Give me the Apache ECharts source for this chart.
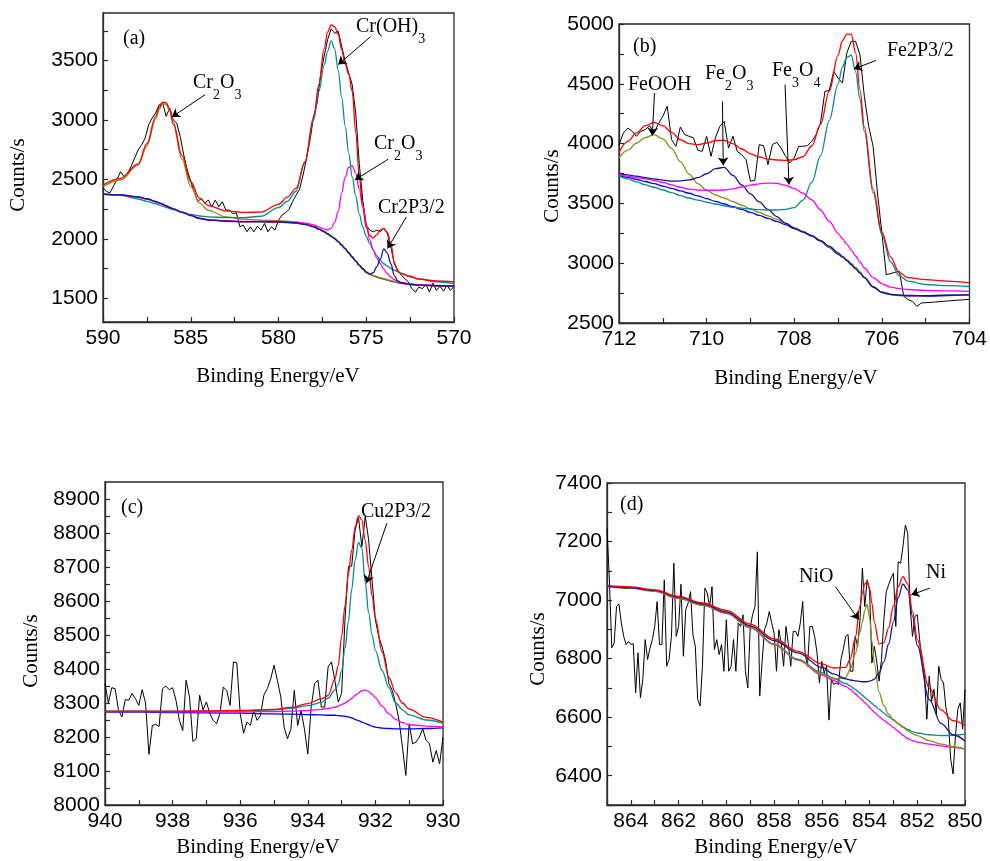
<!DOCTYPE html>
<html>
<head>
<meta charset="utf-8">
<script src="https://cdn.jsdelivr.net/npm/echarts@6/dist/echarts.min.js"></script>
<style>
  html, body { margin: 0; padding: 0; background: #fff; }
  #chart { width: 990px; height: 861px; }
</style>
</head>
<body>
<div id="chart"></div>
<script>
// ---------- (a) Cr 2p ----------
const aRawStart = 590, aRawStep = -0.2;
const aRaw = [2433, 2397, 2388, 2444, 2501, 2565, 2523, 2551, 2608, 2678,
  2748, 2791, 2847, 2960, 3016, 3058, 3128, 3142, 3030, 3100,
  3002, 2974, 2861, 2706, 2580, 2481, 2397, 2312, 2340, 2298,
  2326, 2270, 2326, 2270, 2312, 2242, 2242, 2213, 2219, 2101,
  2115, 2059, 2101, 2059, 2107, 2073, 2129, 2059, 2101, 2073,
  2157, 2200, 2219, 2247, 2312, 2368, 2416, 2537, 2678, 2833,
  3030, 3142, 3382, 3537, 3677, 3767, 3728, 3748, 3621, 3494,
  3396, 3297, 3058, 2636, 2326, 2115, 2073, 2059, 2073, 2059,
  2087, 2045, 1932, 1791, 1735, 1693, 1665, 1637, 1580, 1552,
  1594, 1580, 1617, 1552, 1628, 1566, 1600, 1560, 1608, 1566,
  1600];
const aFitE = [590, 589, 588, 587.5, 587, 586.8, 586.6, 586.4, 586.2, 586,
  585.5, 585, 584.5, 584, 583, 582, 581, 580, 579.5, 579,
  578.5, 578, 577.7, 577.4, 577.2, 577, 576.8, 576.6, 576.4, 576.2,
  576, 575.8, 575.6, 575.4, 575.2, 575, 574.8, 574.6, 574.4, 574.2,
  574, 573.8, 573.6, 573.4, 573.2, 573, 572.5, 572, 571, 570];
const aBackground = [2374, 2368, 2350, 2335, 2312, 2300, 2290, 2275, 2262, 2250,
  2222, 2195, 2170, 2158, 2148, 2143, 2142, 2140, 2137, 2132,
  2120, 2100, 2080, 2058, 2040, 2020, 2000, 1975, 1945, 1915,
  1880, 1845, 1810, 1775, 1745, 1718, 1700, 1688, 1678, 1668,
  1660, 1652, 1644, 1637, 1630, 1625, 1615, 1610, 1604, 1602];
const aCr2O3High = [2440, 2495, 2620, 2780, 3010, 3090, 3140, 3130, 3075, 2960,
  2670, 2440, 2300, 2240, 2185, 2165, 2158, 2152, 2148, 2142,
  2128, 2107, 2086, 2063, 2045, 2025, 2005, 1980, 1950, 1920,
  1885, 1850, 1815, 1780, 1750, 1723, 1705, 1693, 1683, 1673,
  1665, 1657, 1649, 1642, 1635, 1630, 1620, 1614, 1608, 1605];
const aCrOH3 = [2377, 2365, 2335, 2315, 2295, 2285, 2275, 2265, 2255, 2245,
  2225, 2205, 2192, 2185, 2178, 2177, 2190, 2262, 2315, 2400,
  2650, 3000, 3240, 3460, 3580, 3665, 3600, 3420, 3190, 2950,
  2720, 2520, 2360, 2210, 2100, 2020, 1960, 1905, 1858, 1818,
  1790, 1770, 1752, 1737, 1722, 1710, 1680, 1660, 1638, 1622];
const aCr2O3Low = [2376, 2370, 2352, 2337, 2315, 2303, 2293, 2278, 2265, 2253,
  2225, 2198, 2173, 2161, 2152, 2147, 2147, 2146, 2144, 2140,
  2132, 2118, 2100, 2082, 2075, 2090, 2140, 2230, 2385, 2520,
  2600, 2615, 2550, 2420, 2280, 2130, 1990, 1905, 1840, 1790,
  1745, 1708, 1678, 1657, 1642, 1633, 1620, 1613, 1606, 1603];
const aCrMetal = [2376, 2370, 2352, 2337, 2314, 2302, 2292, 2277, 2264, 2252,
  2224, 2197, 2172, 2160, 2150, 2145, 2144, 2142, 2139, 2134,
  2122, 2102, 2082, 2060, 2042, 2022, 2002, 1977, 1947, 1917,
  1882, 1847, 1812, 1778, 1750, 1718, 1703, 1715, 1765, 1830,
  1915, 1880, 1790, 1690, 1645, 1628, 1616, 1611, 1605, 1603];
const aEnvelope = [2453, 2509, 2630, 2800, 3030, 3105, 3150, 3145, 3095, 2980,
  2700, 2480, 2340, 2280, 2235, 2222, 2225, 2290, 2350, 2425,
  2640, 3020, 3300, 3600, 3740, 3800, 3785, 3720, 3590, 3470,
  3385, 3240, 2900, 2530, 2260, 2095, 2030, 2005, 2035, 2072,
  2088, 2055, 1960, 1800, 1725, 1705, 1685, 1662, 1645, 1637];
const aXLabels = [590, 585, 580, 575, 570];
const aXTicks = [590, 587.5, 585, 582.5, 580, 577.5, 575, 572.5, 570];
const aYLabels = [1500, 2000, 2500, 3000, 3500];
const aYTicks = [1500, 1750, 2000, 2250, 2500, 2750, 3000, 3250, 3500, 3750];

// ---------- (b) Fe 2p ----------
const bRawStart = 712, bRawStep = -0.1;
const bRaw = [3991, 4089, 4130, 4103, 4061, 4103, 4117, 4150, 4089, 4167,
  4228, 4312, 4033, 3977, 4139, 4075, 4061, 4047, 3944, 3935,
  4061, 3894, 4047, 4144, 4186, 3963, 4061, 3935, 3907, 3866,
  3685, 3693, 3991, 3983, 3824, 3991, 4011, 3963, 3894, 3838,
  3880, 3977, 3977, 3983, 4019, 4075, 4172, 4437, 4445, 4604,
  4548, 4507, 4758, 4855, 4855, 4744, 4395, 4144, 3977, 3587,
  3253, 2904, 2913, 2924, 2932, 2723, 2695, 2681, 2639, 2667,
  2670, 2672, 2675, 2678, 2681, 2684, 2687, 2690, 2692, 2695,
  2698];
const bFitE = [712, 711.8, 711.6, 711.4, 711.2, 711, 710.8, 710.6, 710.4, 710.2,
  710, 709.8, 709.6, 709.4, 709.2, 709, 708.8, 708.6, 708.4, 708.2,
  708, 707.8, 707.6, 707.4, 707.2, 707, 706.9, 706.8, 706.7, 706.6,
  706.5, 706.4, 706.2, 706, 705.8, 705.6, 705.4, 705, 704.5, 704];
const bBackground = [3735, 3718, 3700, 3683, 3665, 3645, 3625, 3605, 3585, 3563,
  3540, 3517, 3495, 3472, 3450, 3425, 3400, 3375, 3350, 3322,
  3290, 3260, 3226, 3184, 3130, 3075, 3050, 3025, 2995, 2960,
  2925, 2880, 2800, 2755, 2737, 2730, 2727, 2725, 2730, 2735];
const bFeOOH = [3880, 3945, 4005, 4050, 4075, 4040, 3960, 3850, 3745, 3665,
  3610, 3572, 3545, 3515, 3485, 3455, 3425, 3396, 3368, 3335,
  3298, 3266, 3232, 3190, 3135, 3080, 3054, 3028, 2998, 2963,
  2928, 2883, 2803, 2758, 2740, 2733, 2730, 2728, 2733, 2738];
const bFe2O3 = [3746, 3738, 3728, 3715, 3705, 3695, 3686, 3688, 3696, 3715,
  3748, 3790, 3802, 3735, 3655, 3580, 3512, 3450, 3390, 3335,
  3292, 3262, 3230, 3188, 3142, 3087, 3057, 3022, 2987, 2952,
  2917, 2880, 2803, 2758, 2740, 2733, 2730, 2728, 2732, 2738];
const bFe3O4 = [3740, 3728, 3716, 3705, 3692, 3675, 3655, 3635, 3620, 3612,
  3610, 3610, 3612, 3622, 3637, 3652, 3664, 3670, 3668, 3652,
  3625, 3585, 3530, 3445, 3350, 3250, 3205, 3160, 3110, 3060,
  3010, 2960, 2880, 2830, 2800, 2788, 2780, 2772, 2768, 2765];
const bFeMetal = [3730, 3705, 3680, 3655, 3635, 3612, 3590, 3565, 3545, 3528,
  3510, 3495, 3480, 3468, 3460, 3453, 3448, 3445, 3445, 3450,
  3465, 3528, 3675, 3900, 4195, 4500, 4640, 4720, 4740, 4600,
  4370, 4105, 3590, 3240, 3010, 2895, 2850, 2822, 2812, 2805];
const bEnvelope = [3925, 4019, 4089, 4150, 4178, 4150, 4094, 4033, 4000, 3991,
  4005, 4025, 4027, 4000, 3955, 3916, 3888, 3871, 3863, 3860,
  3866, 3890, 3980, 4160, 4440, 4740, 4860, 4915, 4915, 4760,
  4450, 4140, 3620, 3260, 3050, 2920, 2880, 2862, 2850, 2835];
const bXLabels = [712, 710, 708, 706, 704];
const bXTicks = [712, 711, 710, 709, 708, 707, 706, 705, 704];
const bYLabels = [2500, 3000, 3500, 4000, 4500, 5000];
const bYTicks = [2500, 2750, 3000, 3250, 3500, 3750, 4000, 4250, 4500, 4750, 5000];

// ---------- (c) Cu 2p ----------
const cRawStart = 940, cRawStep = -0.1;
const cRaw = [8357, 8300, 8345, 8342, 8278, 8259, 8310, 8308, 8328, 8313,
  8293, 8339, 8300, 8149, 8234, 8237, 8231, 8342, 8350, 8339,
  8345, 8308, 8249, 8219, 8367, 8318, 8187, 8195, 8323, 8280,
  8303, 8269, 8249, 8239, 8269, 8347, 8337, 8293, 8421, 8418,
  8269, 8211, 8244, 8234, 8278, 8249, 8264, 8323, 8342, 8370,
  8411, 8367, 8318, 8229, 8195, 8224, 8337, 8234, 8278, 8224,
  8150, 8288, 8357, 8367, 8288, 8288, 8406, 8421, 8367, 8303,
  8328, 8544, 8701, 8703, 8810, 8844, 8760, 8849, 8780, 8662,
  8544, 8495, 8465, 8426, 8357, 8337, 8298, 8249, 8170, 8087,
  8239, 8180, 8185, 8200, 8224, 8190, 8180, 8126, 8160, 8121,
  8200];
const cFitE = [940, 939, 938, 937, 936, 935, 934.5, 934, 933.6, 933.4,
  933.2, 933.1, 933, 932.9, 932.8, 932.7, 932.6, 932.5, 932.4, 932.3,
  932.2, 932.1, 932, 931.8, 931.6, 931.4, 931.2, 931, 930.5, 930];
const cBackground = [8273, 8273, 8272, 8271, 8270, 8268, 8267, 8266, 8265, 8264,
  8264, 8263, 8262, 8261, 8259, 8256, 8252, 8248, 8244, 8240,
  8236, 8232, 8229, 8226, 8225, 8224, 8224, 8224, 8225, 8227];
const cCuOxide = [8275, 8275, 8274, 8274, 8274, 8275, 8276, 8278, 8281, 8284,
  8288, 8291, 8295, 8300, 8306, 8314, 8322, 8330, 8336, 8338,
  8334, 8326, 8315, 8290, 8268, 8252, 8242, 8236, 8232, 8230];
const cCuMetal = [8275, 8275, 8275, 8276, 8277, 8280, 8284, 8292, 8302, 8314,
  8338, 8355, 8395, 8460, 8540, 8635, 8720, 8772, 8755, 8655,
  8565, 8500, 8455, 8395, 8345, 8300, 8280, 8265, 8250, 8241];
const cEnvelope = [8276, 8276, 8276, 8277, 8278, 8281, 8287, 8298, 8312, 8322,
  8370, 8410, 8495, 8585, 8680, 8750, 8818, 8850, 8838, 8778,
  8700, 8615, 8548, 8450, 8375, 8330, 8300, 8282, 8258, 8244];
const cXLabels = [940, 938, 936, 934, 932, 930];
const cXTicks = [940, 939, 938, 937, 936, 935, 934, 933, 932, 931, 930];
const cYLabels = [8000, 8100, 8200, 8300, 8400, 8500, 8600, 8700, 8800, 8900];
const cYTicks = [8000, 8050, 8100, 8150, 8200, 8250, 8300, 8350, 8400, 8450,
  8500, 8550, 8600, 8650, 8700, 8750, 8800, 8850, 8900];

// ---------- (d) Ni 2p ----------
const dRawStart = 865, dRawStep = -0.1;
const dRaw = [7245, 7069, 6837, 6853, 6978, 6987, 6922, 6876, 6848, 6859,
  6848, 6851, 6683, 6820, 6666, 6729, 6865, 6797, 6836, 6865,
  6910, 6995, 6848, 6848, 7069, 6774, 6797, 6876, 7126, 6876,
  6910, 7054, 6808, 6967, 6990, 7029, 6882, 6842, 6661, 6638,
  6774, 7041, 7024, 6978, 7046, 6831, 6865, 6814, 6848, 6757,
  6933, 6757, 6774, 6865, 6757, 6922, 6910, 6950, 6757, 6700,
  6905, 6950, 6978, 7165, 6672, 6791, 6899, 6922, 6961, 6922,
  6888, 6757, 6899, 6853, 6774, 6910, 6848, 6774, 6893, 6893,
  6876, 6922, 6995, 6820, 6774, 6910, 6910, 6876, 6820, 6717,
  6791, 6751, 6774, 6590, 6729, 6712, 6717, 6712, 6797, 6831,
  6876, 6882, 6757, 6757, 6876, 6842, 6933, 7109, 6978, 7069,
  7035, 6785, 6842, 6791, 6723, 6797, 6933, 7029, 7052, 7075,
  7092, 6910, 7131, 7126, 7182, 7256, 7228, 6978, 6876, 6944,
  6950, 6865, 6785, 6740, 6593, 6740, 6655, 6695, 6610, 6774,
  6729, 6717, 6632, 6593, 6457, 6406, 6536, 6627, 6649, 6559,
  6695];
const dFitE = [865, 864, 863, 862, 861, 860, 859, 858, 857, 856,
  855.5, 855, 854.8, 854.6, 854.4, 854.3, 854.2, 854.1, 854, 853.9,
  853.8, 853.6, 853.4, 853.2, 853, 852.8, 852.6, 852.4, 852.2, 852,
  851.5, 851, 850.5, 850];
const dBackground = [7046, 7040, 7030, 7005, 6982, 6955, 6905, 6848, 6795, 6745,
  6725, 6705, 6695, 6680, 6665, 6658, 6650, 6642, 6633, 6625,
  6617, 6602, 6590, 6577, 6565, 6552, 6538, 6527, 6520, 6515,
  6508, 6502, 6497, 6491];
const dUpperBackground = [7048, 7042, 7032, 7007, 6984, 6957, 6907, 6850, 6797, 6752,
  6733, 6715, 6706, 6695, 6682, 6675, 6668, 6661, 6654, 6647,
  6640, 6627, 6614, 6602, 6590, 6578, 6567, 6558, 6551, 6546,
  6540, 6537, 6538, 6542];
const dNiO = [7047, 7041, 7031, 7006, 6983, 6957, 6907, 6850, 6798, 6748,
  6730, 6735, 6765, 6815, 6890, 6925, 6965, 6985, 6940, 6860,
  6785, 6685, 6640, 6610, 6592, 6578, 6565, 6553, 6544, 6537,
  6520, 6508, 6499, 6491];
const dNiMetal = [7048, 7042, 7033, 7010, 6987, 6960, 6912, 6862, 6820, 6770,
  6748, 6731, 6727, 6724, 6722, 6721, 6721, 6721, 6723, 6726,
  6730, 6752, 6790, 6850, 6925, 7008, 7055, 7035, 6945, 6845,
  6660, 6578, 6540, 6519];
const dEnvelope = [7050, 7045, 7035, 7013, 6990, 6965, 6918, 6868, 6825, 6782,
  6768, 6770, 6800, 6870, 6980, 7025, 7055, 7063, 7040, 6990,
  6925, 6850, 6855, 6905, 6980, 7045, 7080, 7055, 6962, 6865,
  6700, 6625, 6588, 6572];
const dXLabels = [864, 862, 860, 858, 856, 854, 852, 850];
const dXTicks = [865, 864, 863, 862, 861, 860, 859, 858, 857, 856, 855, 854, 853, 852, 851, 850];
const dYLabels = [6400, 6600, 6800, 7000, 7200, 7400];
const dYTicks = [6300, 6400, 6500, 6600, 6700, 6800, 6900, 7000, 7100, 7200, 7300, 7400];

// ---------- peak-label arrows, [tail, head] in (energy, counts) ----------
const aArrows = [[[584.18, 3213], [586.08, 3024]], [[574.76, 3700], [576.6, 3466]],
  [[573.75, 2670], [575.65, 2495]], [[572.71, 2185], [573.79, 1918]]];
const bArrows = [[[711.19, 4423], [711.24, 4066]], [[709.64, 4353], [709.62, 3818]],
  [[708.21, 4493], [708.12, 3657]], [[706.13, 4696], [706.64, 4624]]];
const cArrows = [[[931.66, 8829], [932.27, 8652]]];
const dArrows = [[[855.43, 7046], [854.45, 6933]], [[851.47, 7041], [852.25, 7018]]];

// ---------- styling ----------
const SANS = 'Liberation Sans';
const SERIF = 'Liberation Serif';
const COL = {
  red: '#ff0000', teal: '#0a8a8a', olive: '#8c8c10', magenta: '#ff00ff',
  navy: '#15158a', blue: '#0000ff', purple: '#7a157a', black: '#000000'
};
const FRAME = '#2a2a2a';

const grids = [
  { left: 103, top: 13, width: 351, height: 309 },
  { left: 619, top: 24, width: 353, height: 299 },
  { left: 105, top: 482, width: 338, height: 323 },
  { left: 607, top: 483, width: 358, height: 322 }
];
const ranges = [
  { x: [570, 590], y: [1300, 3900], xl: aXLabels, xt: aXTicks, yl: aYLabels, yt: aYTicks },
  { x: [704, 712], y: [2500, 5000], xl: bXLabels, xt: bXTicks, yl: bYLabels, yt: bYTicks },
  { x: [930, 940], y: [8000, 8950], xl: cXLabels, xt: cXTicks, yl: cYLabels, yt: cYTicks },
  { x: [850, 865], y: [6300, 7400], xl: dXLabels, xt: dXTicks, yl: dYLabels, yt: dYTicks }
];
const plainNumber = v => String(v);

function xAxisFor(i) {
  const r = ranges[i];
  return {
    gridIndex: i, type: 'value', inverse: true, min: r.x[0], max: r.x[1],
    axisLine: { show: true, lineStyle: { color: FRAME, width: 1.3 } },
    axisTick: { show: true, inside: true, length: 5, customValues: r.xt, lineStyle: { color: FRAME, width: 1.2 } },
    axisLabel: { customValues: r.xl, formatter: plainNumber, color: '#000', fontSize: 21, fontFamily: SANS, margin: 6 },
    splitLine: { show: false }
  };
}
function yAxisFor(i) {
  const r = ranges[i];
  return {
    gridIndex: i, type: 'value', min: r.y[0], max: r.y[1],
    axisLine: { show: true, lineStyle: { color: FRAME, width: 1.3 } },
    axisTick: { show: true, inside: true, length: 5, customValues: r.yt, lineStyle: { color: FRAME, width: 1.2 } },
    axisLabel: { customValues: r.yl, formatter: plainNumber, color: '#000', fontSize: 21, fontFamily: SANS, margin: 5 },
    splitLine: { show: false }
  };
}

function fitLine(gi, energies, counts, color) {
  return {
    type: 'line', xAxisIndex: gi, yAxisIndex: gi,
    data: energies.map((e, k) => [e, counts[k]]),
    showSymbol: false, smooth: 0.35, smoothMonotone: 'x', silent: true,
    lineStyle: { color: color, width: 1.3 }, itemStyle: { color: color },
    animation: false
  };
}
function rawLine(gi, start, step, counts, arrows) {
  return {
    type: 'line', xAxisIndex: gi, yAxisIndex: gi,
    data: counts.map((v, k) => [+(start + step * k).toFixed(2), v]),
    showSymbol: false, silent: true,
    lineStyle: { color: COL.black, width: 1 }, itemStyle: { color: COL.black },
    animation: false,
    markLine: {
      silent: true, animation: false, symbol: ['none', 'arrow'], symbolSize: 8,
      lineStyle: { color: '#000', width: 1, type: 'solid' },
      label: { show: false }, emphasis: { disabled: true },
      data: arrows.map(a => [{ coord: a[0] }, { coord: a[1] }])
    }
  };
}

const series = [
  // (a)
  rawLine(0, aRawStart, aRawStep, aRaw, aArrows),
  fitLine(0, aFitE, aBackground, COL.purple),
  fitLine(0, aFitE, aCr2O3High, COL.olive),
  fitLine(0, aFitE, aCrOH3, COL.teal),
  fitLine(0, aFitE, aCr2O3Low, COL.magenta),
  fitLine(0, aFitE, aCrMetal, COL.navy),
  fitLine(0, aFitE, aEnvelope, COL.red),
  // (b)
  rawLine(1, bRawStart, bRawStep, bRaw, bArrows),
  fitLine(1, bFitE, bBackground, COL.blue),
  fitLine(1, bFitE, bFeOOH, COL.olive),
  fitLine(1, bFitE, bFe2O3, COL.navy),
  fitLine(1, bFitE, bFe3O4, COL.magenta),
  fitLine(1, bFitE, bFeMetal, COL.teal),
  fitLine(1, bFitE, bEnvelope, COL.red),
  // (c)
  rawLine(2, cRawStart, cRawStep, cRaw, cArrows),
  fitLine(2, cFitE, cBackground, COL.blue),
  fitLine(2, cFitE, cCuOxide, COL.magenta),
  fitLine(2, cFitE, cCuMetal, COL.teal),
  fitLine(2, cFitE, cEnvelope, COL.red),
  // (d)
  rawLine(3, dRawStart, dRawStep, dRaw, dArrows),
  fitLine(3, dFitE, dBackground, COL.magenta),
  fitLine(3, dFitE, dUpperBackground, COL.teal),
  fitLine(3, dFitE, dNiO, COL.olive),
  fitLine(3, dFitE, dNiMetal, COL.navy),
  fitLine(3, dFitE, dEnvelope, COL.red)
];

// rich-text styles for chemical formulas with subscripts
const richFormula = {
  n: { fontSize: 20, fontFamily: SERIF, color: '#000' },
  s: { fontSize: 14, fontFamily: SERIF, color: '#000', padding: [24, 0, 0, 0] }
};
function label(x, y, text) {
  return {
    type: 'text', x: x, y: y, silent: true, z: 100,
    style: { text: text, rich: richFormula, fill: '#000', fontSize: 20, fontFamily: SERIF,
             align: 'left', verticalAlign: 'middle', textAlign: 'left', textVerticalAlign: 'middle' }
  };
}
function axisTitle(x, y, text, vertical) {
  return {
    type: 'text', x: x, y: y, rotation: vertical ? Math.PI / 2 : 0, silent: true, z: 100,
    style: { text: text, fill: '#000', fontSize: 21, fontFamily: SERIF,
             align: 'center', verticalAlign: 'middle', textAlign: 'center', textVerticalAlign: 'middle' }
  };
}

const graphics = [
  // axis titles
  axisTitle(18, 175, 'Counts/s', true),
  axisTitle(278, 376, 'Binding Energy/eV', false),
  axisTitle(552, 186, 'Counts/s', true),
  axisTitle(796, 378, 'Binding Energy/eV', false),
  axisTitle(31, 651, 'Counts/s', true),
  axisTitle(258, 847, 'Binding Energy/eV', false),
  axisTitle(538, 649, 'Counts/s', true),
  axisTitle(776, 847, 'Binding Energy/eV', false),
  // panel letters
  label(123, 39, '{n|(a)}'),
  label(633, 47, '{n|(b)}'),
  label(121, 508, '{n|(c)}'),
  label(620, 505, '{n|(d)}'),
  // peak labels
  label(193, 83, '{n|Cr}{s|2}{n|O}{s|3}'),
  label(356, 27, '{n|Cr(OH)}{s|3}'),
  label(374, 144, '{n|Cr}{s|2}{n|O}{s|3}'),
  label(378, 208, '{n|Cr2P3/2}'),
  label(628, 85, '{n|FeOOH}'),
  label(705, 74, '{n|Fe}{s|2}{n|O}{s|3}'),
  label(772, 71, '{n|Fe}{s|3}{n|O}{s|4}'),
  label(887, 51, '{n|Fe2P3/2}'),
  label(361, 512, '{n|Cu2P3/2}'),
  label(799, 577, '{n|NiO}'),
  label(926, 573, '{n|Ni}')
];

const chart = echarts.init(document.getElementById('chart'), null, { renderer: 'canvas', width: 990, height: 861 });
chart.setOption({
  backgroundColor: '#ffffff',
  animation: false,
  textStyle: { fontFamily: SANS },
  grid: grids.map(g => Object.assign({ show: true, borderColor: FRAME, borderWidth: 1.3, backgroundColor: 'transparent', containLabel: false }, g)),
  xAxis: [0, 1, 2, 3].map(xAxisFor),
  yAxis: [0, 1, 2, 3].map(yAxisFor),
  series: series,
  graphic: graphics
});
</script>
</body>
</html>
